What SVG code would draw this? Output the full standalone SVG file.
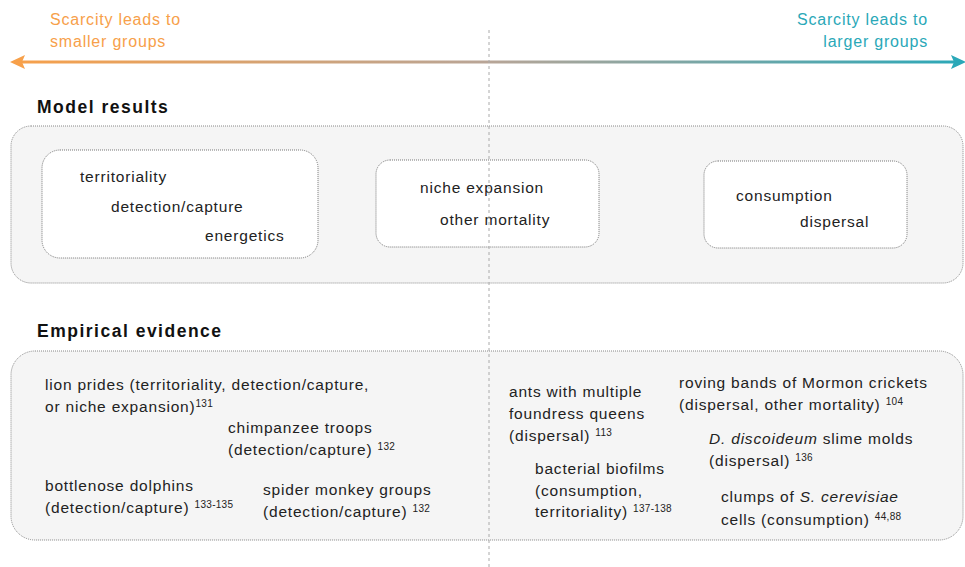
<svg xmlns="http://www.w3.org/2000/svg" width="965" height="567" viewBox="0 0 965 567">
<defs>
<linearGradient id="g" x1="12" y1="0" x2="965" y2="0" gradientUnits="userSpaceOnUse">
<stop offset="0" stop-color="#F7A04A"/>
<stop offset="0.5" stop-color="#B8A597"/>
<stop offset="1" stop-color="#2AA8B8"/>
</linearGradient>
</defs>
<style>
text{font-family:"Liberation Sans",Arial,sans-serif;fill:#222;font-size:15.5px;letter-spacing:0.8px}
.h{font-weight:bold;font-size:17.5px;fill:#111;letter-spacing:1.5px}
.sup{font-size:10px;letter-spacing:0.3px}
.outer{fill:#f5f5f5;stroke:#888;stroke-width:1;stroke-dasharray:1,1}
.inner{fill:#fff;stroke:#777;stroke-width:1;stroke-dasharray:1,1}
.or{fill:#F7A04A;font-size:16px}
.te{fill:#2AA8B8;font-size:16px}
</style>
<g id="axis">
<text class="or" x="50" y="25">Scarcity leads to</text>
<text class="or" x="50" y="47">smaller groups</text>
<text class="te" x="928" y="25" text-anchor="end">Scarcity leads to</text>
<text class="te" x="928" y="47" text-anchor="end">larger groups</text>
<rect x="20" y="60.5" width="935" height="3" fill="url(#g)"/>
<polygon points="10,62 25,55 22,62 25,69" fill="#F7A04A"/>
<polygon points="966,62 951,55 954,62 951,69" fill="#2AA8B8"/>
</g>
<g id="model-results">
<text class="h" x="37" y="113">Model results</text>
<rect class="outer" x="11" y="126" width="952" height="157" rx="20"/>
</g>
<g id="model-left">
<rect class="inner" x="42" y="150" width="276" height="108" rx="18"/>
<text x="80" y="182">territoriality</text>
<text x="111" y="212">detection/capture</text>
<text x="205" y="241">energetics</text>
</g>
<g id="model-mid">
<rect class="inner" x="376" y="160" width="223" height="87" rx="14"/>
<text x="420" y="193">niche expansion</text>
<text x="440" y="225">other mortality</text>
</g>
<g id="model-right">
<rect class="inner" x="704" y="161" width="203" height="87" rx="14"/>
<text x="736" y="201">consumption</text>
<text x="800" y="227">dispersal</text>
</g>
<g id="empirical">
<text class="h" x="37" y="337">Empirical evidence</text>
<rect class="outer" x="11" y="351" width="952" height="189" rx="24"/>
</g>
<g id="ev-lion">
<text x="45" y="390">lion prides (territoriality, detection/capture,</text>
<text x="45" y="412">or niche expansion)<tspan class="sup" dy="-5">131</tspan></text>
</g>
<g id="ev-chimp">
<text x="228" y="433">chimpanzee troops</text>
<text x="228" y="455">(detection/capture) <tspan class="sup" dy="-5">132</tspan></text>
</g>
<g id="ev-dolphin">
<text x="45" y="491">bottlenose dolphins</text>
<text x="45" y="513">(detection/capture) <tspan class="sup" dy="-5">133-135</tspan></text>
</g>
<g id="ev-spider">
<text x="263" y="495">spider monkey groups</text>
<text x="263" y="517">(detection/capture) <tspan class="sup" dy="-5">132</tspan></text>
</g>
<g id="ev-ants">
<text x="509" y="397">ants with multiple</text>
<text x="509" y="419">foundress queens</text>
<text x="509" y="441">(dispersal) <tspan class="sup" dy="-5">113</tspan></text>
</g>
<g id="ev-biofilm">
<text x="535" y="474">bacterial biofilms</text>
<text x="535" y="496">(consumption,</text>
<text x="535" y="517">territoriality) <tspan class="sup" dy="-5">137-138</tspan></text>
</g>
<g id="ev-crickets">
<text x="679" y="388">roving bands of Mormon crickets</text>
<text x="679" y="410">(dispersal, other mortality) <tspan class="sup" dy="-5">104</tspan></text>
</g>
<g id="ev-dicty">
<text x="709" y="444"><tspan font-style="italic">D. discoideum</tspan> slime molds</text>
<text x="709" y="466">(dispersal) <tspan class="sup" dy="-5">136</tspan></text>
</g>
<g id="ev-yeast">
<text x="721" y="502">clumps of <tspan font-style="italic">S. cerevisiae</tspan></text>
<text x="721" y="525">cells (consumption) <tspan class="sup" dy="-5">44,88</tspan></text>
</g>
<g id="connectors">
<line x1="489" y1="30" x2="489" y2="567" stroke="#aaa" stroke-width="1" stroke-dasharray="3,3"/>
</g>
</svg>
